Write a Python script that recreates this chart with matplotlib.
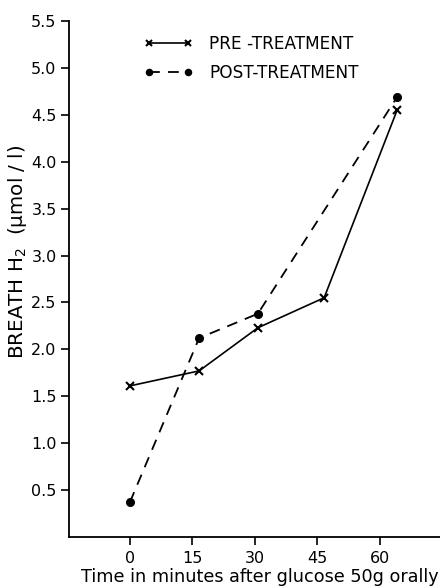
import numpy as np
import matplotlib.pyplot as plt

# values
pre_x = [0, 16.6, 30.7, 46.6, 64.1]
pre_y = [1.61, 1.77, 2.23, 2.55, 4.55]
post_x = [0, 16.6, 30.7, 64.1]
post_y = [0.37, 2.12, 2.38, 4.69]

xticks = [0, 15, 30, 45, 60]
yticks = [0.5, 1.0, 1.5, 2.0, 2.5, 3.0, 3.5, 4.0, 4.5, 5.0, 5.5]

plt.rcParams['font.family'] = ['DejaVu Sans']

fig = plt.figure(figsize=(4.4, 5.88), dpi=100)
ax = fig.add_axes([0.157, 0.087, 0.843, 0.877])

ax.plot(pre_x, pre_y, color='black', lw=1.2, marker='x', ms=6, mew=1.5,
        label='PRE -TREATMENT')
ax.plot(post_x, post_y, color='black', lw=1.3, ls=(0, (6, 4.5)), marker='o',
        ms=5.5, label='POST-TREATMENT')

ax.set_xlim(-14.6, 74.4)
ax.set_ylim(0, 5.5)
ax.set_xticks(xticks)
ax.set_yticks(yticks)
ax.set_yticklabels(['%.1f' % v for v in yticks])

for s in ['top', 'right']:
    ax.spines[s].set_visible(False)
ax.spines['left'].set_linewidth(1.3)
ax.spines['bottom'].set_linewidth(1.3)
ax.tick_params(direction='out', length=6, width=1.2, labelsize=11.5, pad=3)
ax.tick_params(axis='x', pad=4)

ax.set_xlabel('Time in minutes after glucose 50g orally', fontsize=12.7, va='center')
ax.xaxis.set_label_coords(0.513, -0.0775)
ax.set_ylabel(r'BREATH H$_2$  ($\mathrm{\mu}$mol / l)', fontsize=14.3, va='center')
ax.yaxis.set_label_coords(-0.14, 0.552)

ax.legend(loc='upper left', bbox_to_anchor=(0.17, 0.997), frameon=False,
          numpoints=2, handlelength=2.9, fontsize=12.2, labelspacing=0.65,
          handletextpad=0.95, borderpad=0.2, markerscale=0.8)

fig.savefig('out.png', dpi=100)
